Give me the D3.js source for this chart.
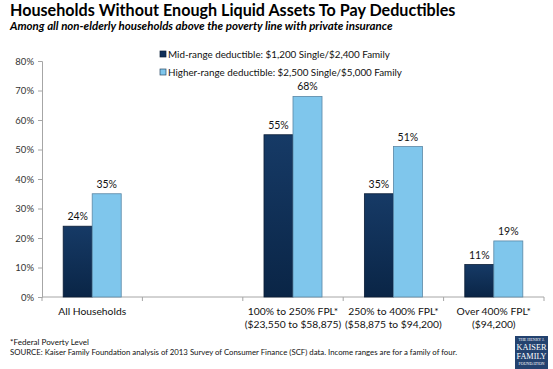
<!DOCTYPE html>
<html><head><meta charset="utf-8">
<script src="https://cdn.jsdelivr.net/npm/d3@7"></script>
<style>
html,body{margin:0;padding:0;background:#fff;}
svg{display:block;font-family:Lato,"Open Sans",sans-serif;}
</style></head>
<body>
<svg id="c" width="553" height="369"></svg>
<script>
const categories = ["All Households", "", "100% to 250% FPL*", "250% to 400% FPL*", "Over 400% FPL*"];
const subLabels = ["", "", "($23,550 to $58,875)", "($58,875 to $94,200)", "($94,200)"];
const seriesNames = ["Mid-range deductible: $1,200 Single/$2,400 Family", "Higher-range deductible: $2,500 Single/$5,000 Family"];
const midValues = [24, null, 55, 35, 11];
const highValues = [35, null, 68, 51, 19];
const yTicks = [0, 10, 20, 30, 40, 50, 60, 70, 80];
const titleText = "Households Without Enough Liquid Assets To Pay Deductibles";
const subtitleText = "Among all non-elderly households above the poverty line with private insurance";
const footnote = "*Federal Poverty Level";
const sourceText = "SOURCE: Kaiser Family Foundation analysis of 2013 Survey of Consumer Finance (SCF) data. Income ranges are for a family of four.";

const svg = d3.select("#c");
const defs = svg.append("defs");
const g1 = defs.append("linearGradient").attr("id","gDark").attr("x1",0).attr("y1",0).attr("x2",0).attr("y2",1);
g1.append("stop").attr("offset","0%").attr("stop-color","#163a66");
g1.append("stop").attr("offset","100%").attr("stop-color","#0a2546");

function fit(sel, w) {
  const n = sel.node();
  const fs = parseFloat(sel.attr("font-size"));
  const cw = n.getComputedTextLength();
  sel.attr("font-size", (fs * w / cw).toFixed(2));
}

// Title
fit(svg.append("text").attr("x",10).attr("y",16).attr("font-size",20).attr("font-weight","bold").attr("fill","#000").text(titleText), 446);
fit(svg.append("text").attr("x",10).attr("y",30).attr("font-size",12).attr("font-weight","bold").attr("font-style","italic").attr("fill","#000").text(subtitleText), 383);

const x = d3.scaleBand().domain(d3.range(categories.length)).range([42,544]).paddingInner(0).paddingOuter(0);
const keys = ["mid","high"];
const x1 = d3.scaleBand().domain(keys).range([0, x.bandwidth()]).paddingInner(0).paddingOuter(0.73);
const y = d3.scaleLinear().domain([0,80]).range([297,61]);

const data = categories.map((c,i)=>({i, mid: midValues[i], high: highValues[i]}));

// Y axis
const yAx = svg.append("g").attr("transform","translate(42,0)").call(d3.axisLeft(y).tickValues(yTicks).tickSize(4).tickPadding(4).tickFormat(d=>d+"%"));
yAx.select(".domain").attr("stroke","#a6a6a6");
yAx.selectAll(".tick line").attr("stroke","#a6a6a6");
yAx.selectAll(".tick text").attr("font-family","Lato, sans-serif").attr("font-size",9.5).attr("fill","#333");

// X axis
const xAx = svg.append("g").attr("transform","translate(0,297)");
xAx.append("line").attr("x1",42).attr("x2",544).attr("stroke","#a6a6a6");
const bounds = d3.range(categories.length+1).map(k => k < categories.length ? x(k) : x(k-1)+x.bandwidth());
xAx.selectAll("line.tk").data(bounds).join("line").attr("class","tk")
  .attr("x1",d=>d).attr("x2",d=>d).attr("y1",0).attr("y2",4).attr("stroke","#a6a6a6");

// Bars
const colors = {mid:"url(#gDark)", high:"#7fc6ec"};
const strokes = {mid:"#0b1d36", high:"#5a87a5"};
const grp = svg.append("g").selectAll("g").data(data.filter(d=>d.mid!=null)).join("g")
  .attr("transform", d=>`translate(${x(d.i)},0)`);
keys.forEach(k=>{
  grp.append("rect").attr("x",x1(k)).attr("width",x1.bandwidth())
    .attr("y",d=>y(d[k])).attr("height",d=>y(0)-y(d[k]))
    .attr("fill",colors[k]).attr("stroke",strokes[k]).attr("stroke-width",0.8);
  grp.append("text").attr("x",x1(k)+x1.bandwidth()/2).attr("y",d=>y(d[k])-6)
    .attr("text-anchor","middle").attr("font-size",10.5).attr("fill","#111").text(d=>d[k]+"%");
});

// X labels
const xl = svg.append("g");
xl.selectAll("text.l1").data(data).join("text").attr("class","l1")
  .attr("x",d=>x(d.i)+x.bandwidth()/2).attr("y",315).attr("text-anchor","middle")
  .attr("font-size",10.3).attr("fill","#111").text(d=>categories[d.i]);
xl.selectAll("text.l2").data(data).join("text").attr("class","l2")
  .attr("x",d=>x(d.i)+x.bandwidth()/2).attr("y",328).attr("text-anchor","middle")
  .attr("font-size",10.3).attr("fill","#111").text(d=>subLabels[d.i]);

// Legend
const leg = svg.append("g");
seriesNames.forEach((s,j)=>{
  const yy = 54 + j*18;
  leg.append("rect").attr("x",160).attr("y",yy-3).attr("width",6).attr("height",6)
    .attr("fill", j===0 ? "#0f2f5a" : "#7fc6ec").attr("stroke", j===0 ? "#0b1d36":"#2b4a66").attr("stroke-width",0.7);
  const t = leg.append("text").attr("x",168).attr("y",yy+3.5).attr("font-size",10.5).attr("fill","#111").text(s);
  fit(t, j===0 ? 222 : 234);
});

// Footnotes
fit(svg.append("text").attr("x",10).attr("y",344.5).attr("font-size",8).attr("fill","#111").text(footnote), 79);
fit(svg.append("text").attr("x",10).attr("y",355).attr("font-size",8).attr("fill","#111").text(sourceText), 447);

// Logo
const lg = svg.append("g").attr("transform","translate(515,336)");
lg.append("rect").attr("width",33).attr("height",33).attr("fill","#23426f");
const lt = [["THE HENRY J.",5,3.2],["KAISER",14,9.5],["FAMILY",22.5,9.5],["FOUNDATION",28.5,3.2]];
lt.forEach(([s,yy,fs])=>{
  const t = lg.append("text").attr("x",16.5).attr("y",yy).attr("text-anchor","middle")
    .attr("font-family","'Liberation Serif', serif").attr("font-size",fs).attr("fill","#fff").text(s);
  fit(t, fs>5 ? 30 : 26);
});
</script>
</body></html>
